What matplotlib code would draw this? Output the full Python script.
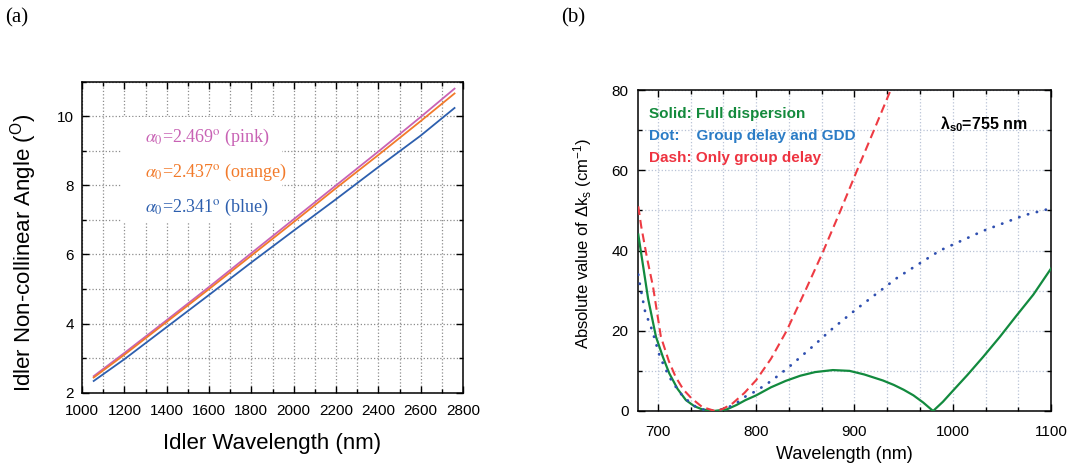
import matplotlib
matplotlib.use("Agg")
import matplotlib.pyplot as plt
from matplotlib.patches import Rectangle
from matplotlib.ticker import MultipleLocator

# (a) idler non-collinear angle vs idler wavelength
idler_wl = [1055, 1200, 1400, 1600, 1800, 2000, 2200, 2400, 2600, 2760]
angle_pink = [2.48, 3.15, 4.10, 5.06, 6.04, 7.02, 8.00, 8.98, 9.98, 10.80]
angle_orange = [2.44, 3.10, 4.05, 5.00, 5.97, 6.94, 7.92, 8.88, 9.86, 10.66]
angle_blue = [2.34, 2.97, 3.90, 4.83, 5.77, 6.69, 7.60, 8.53, 9.44, 10.24]
alpha_labels = [r"$\alpha_0$=2.469$^{\rm o}$ (pink)",
                r"$\alpha_0$=2.437$^{\rm o}$ (orange)",
                r"$\alpha_0$=2.341$^{\rm o}$ (blue)"]

# (b) |delta k_s| vs wavelength
full_wl = [680, 685, 690, 698, 705, 711.5, 720, 728.5, 737, 745, 757, 770,
           780, 789, 800, 815, 830, 845, 860, 878, 895, 910, 929, 940, 950,
           960, 970, 980, 990, 1000, 1015, 1031, 1048, 1064, 1082, 1100]
full_dk = [44, 36, 28, 18.5, 13.5, 9.4, 5.5, 2.7, 1.2, 0.4, 0, 0.4,
           1.5, 2.7, 3.9, 5.9, 7.5, 8.8, 9.7, 10.2, 10.0, 9.1, 7.6, 6.5, 5.3,
           3.9, 2.1, 0, 2.3, 5.0, 9.0, 13.5, 18.5, 23.5, 29.0, 35.5]
gdd_wl = [680, 682, 687, 694, 702, 711.5, 722, 735, 745, 757, 770, 780, 789,
          800, 816, 833.5, 859, 876, 902, 944, 987, 1031, 1073, 1100]
gdd_dk = [34, 31, 24.7, 20.2, 13.5, 8.5, 4.6, 1.5, 0.4, 0, 0.7, 2.0, 3.6,
          5.0, 7.6, 11.0, 16.4, 20.2, 25.4, 33.3, 40.0, 44.9, 48.8, 50.5]
gd_wl = [680, 683, 689, 695, 703, 711, 718, 726, 734, 745, 758, 766, 776,
         788, 800, 815, 831, 850, 868, 885, 902, 919, 936]
gd_dk = [51, 46, 38, 31, 18.5, 12.5, 8.5, 5.3, 3.2, 1.0, 0, 0.5, 1.9,
         4.5, 7.7, 13, 20, 30, 39.7, 49.5, 59.6, 69.5, 79.5]
legend_lines = ["Solid: Full dispersion",
                "Dot:    Group delay and GDD",
                "Dash: Only group delay"]

plt.rcParams["font.family"] = ["Liberation Sans", "DejaVu Sans"]
plt.rcParams["mathtext.fontset"] = "custom"
plt.rcParams["mathtext.rm"] = "Liberation Sans"
plt.rcParams["mathtext.it"] = "Liberation Sans:italic"
plt.rcParams["mathtext.bf"] = "Liberation Sans:bold"


def style_axes(ax, grid_color, xpad, ypad):
    # ticks pointing inwards on every side
    ax.tick_params(which="both", direction="in", top=True, right=True,
                   labelsize=11, width=1.0)
    ax.tick_params(which="major", length=5)
    ax.tick_params(which="minor", length=3)
    ax.tick_params(axis="x", which="both", pad=xpad)
    ax.tick_params(axis="y", which="both", pad=ypad)
    for spine in ax.spines.values():
        spine.set_linewidth(1.1)
    ax.set_axisbelow(True)
    ax.grid(True, which="both", color=grid_color, linestyle=":",
            linewidth=0.9)


def draw_angle_panel(ax):
    ax.plot(idler_wl, angle_pink, color="#c862b4", lw=1.3, zorder=3)
    ax.plot(idler_wl, angle_orange, color="#f27a2a", lw=1.3, zorder=3)
    ax.plot(idler_wl, angle_blue, color="#2d5fae", lw=1.3, zorder=3)
    ax.set_xlim(1000, 2800)
    ax.set_ylim(2, 11)
    ax.xaxis.set_major_locator(MultipleLocator(200))
    ax.xaxis.set_minor_locator(MultipleLocator(100))
    ax.yaxis.set_major_locator(MultipleLocator(2))
    ax.yaxis.set_minor_locator(MultipleLocator(1))
    style_axes(ax, "#8c8c8c", 8, 6)

    # white block behind the annotations hides the grid
    ax.add_patch(Rectangle((1190, 6.95), 755, 3.02, facecolor="white",
                           edgecolor="none", zorder=1))
    colors = ["#c862b4", "#f27a2a", "#2d5fae"]
    for i, (txt, col) in enumerate(zip(alpha_labels, colors)):
        ax.text(0.165, 0.820 - i * 0.1125, txt, transform=ax.transAxes,
                color=col, fontsize=13, family="Liberation Serif",
                math_fontfamily="stix", va="center", ha="left", zorder=4)

    ax.set_xlabel("Idler Wavelength (nm)", fontsize=16)
    ax.set_ylabel(r"Idler Non-collinear Angle ($^{\rm O}$)", fontsize=16)
    ax.xaxis.set_label_coords(0.5, -0.13)
    ax.yaxis.set_label_coords(-0.112, 0.45)


def draw_dk_panel(ax):
    ax.plot(full_wl, full_dk, color="#128a3e", lw=1.6, zorder=3)
    ax.plot(gdd_wl, gdd_dk, color="#2f4fb0", lw=2.0,
            linestyle=(0, (0.1, 3.2)), dash_capstyle="round", zorder=3)
    ax.plot(gd_wl, gd_dk, color="#ee3b43", lw=1.5,
            linestyle=(0, (4.2, 2.4)), zorder=3)
    ax.set_xlim(680, 1100)
    ax.set_ylim(0, 80)
    ax.xaxis.set_major_locator(MultipleLocator(100))
    ax.xaxis.set_minor_locator(MultipleLocator(100 / 3))
    ax.yaxis.set_major_locator(MultipleLocator(20))
    ax.yaxis.set_minor_locator(MultipleLocator(10))
    style_axes(ax, "#b9c3d6", 10, 7)

    colors = ["#138a3c", "#2b7cc6", "#ee3340"]
    weights = ["bold", "semibold", "bold"]
    for i, (txt, col, w) in enumerate(zip(legend_lines, colors, weights)):
        ax.text(0.025, 0.925 - i * 0.068, txt, transform=ax.transAxes,
                color=col, fontsize=11, fontweight=w, va="center", ha="left")
    ax.text(0.731, 0.894, r"λ$_{\bf s0}$=755 nm", transform=ax.transAxes,
            fontsize=11.5, fontweight="bold", va="center", ha="left")

    ax.set_xlabel("Wavelength (nm)", fontsize=13)
    ax.set_ylabel(r"Absolute value of Δk$_{\rm s}$ (cm$^{-1}$)", fontsize=12)
    ax.xaxis.set_label_coords(0.5, -0.108)
    ax.yaxis.set_label_coords(-0.108, 0.52)


def main():
    fig = plt.figure(figsize=(10.74, 4.71), dpi=100)
    ax_a = fig.add_axes([0.0764, 0.1662, 0.3547, 0.6603])
    ax_b = fig.add_axes([0.5943, 0.1274, 0.3843, 0.6815])
    draw_angle_panel(ax_a)
    draw_dk_panel(ax_b)

    fig.text(0.005, 0.962, "(a)", fontsize=15, family="Liberation Serif",
             va="center", ha="left")
    fig.text(0.522, 0.962, "(b)", fontsize=15, family="Liberation Serif",
             va="center", ha="left")
    fig.savefig("out.png", dpi=100)


if __name__ == "__main__":
    main()
